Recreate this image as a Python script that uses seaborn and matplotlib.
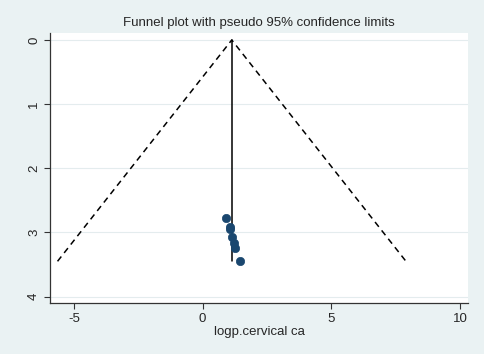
import numpy as np
import pandas as pd
import matplotlib
matplotlib.use("Agg")
import matplotlib.pyplot as plt
import seaborn as sns

# study estimates (log p) and their standard errors
logp = [0.92, 1.05, 1.06, 1.14, 1.21, 1.27, 1.44]
se = [2.77, 2.92, 2.95, 3.07, 3.17, 3.25, 3.45]
pooled = 1.13

xticks = [-5, 0, 5, 10]
yticks = [0, 1, 2, 3, 4]

sns.set_theme(style="white")
plt.rcParams['font.family'] = ['Liberation Sans', 'DejaVu Sans']

bg = '#eaf2f3'
navy = '#1a476f'

fig = plt.figure(figsize=(4.84, 3.54), dpi=100, facecolor=bg)
ax = fig.add_axes([0.103, 0.144, 0.864, 0.763])
ax.set_facecolor('white')

df = pd.DataFrame({'logp': logp, 'se': se})
maxse = max(se)

# pseudo 95% limits
lim = pd.DataFrame({
    'x': [pooled - 1.96 * maxse, pooled, pooled + 1.96 * maxse],
    'y': [maxse, 0, maxse],
})
sns.lineplot(data=lim, x='x', y='y', sort=False, estimator=None,
             color='black', linestyle=(0, (4, 3)), linewidth=1.1, ax=ax)
vert = pd.DataFrame({'x': [pooled, pooled], 'y': [0, maxse]})
sns.lineplot(data=vert, x='x', y='y', sort=False, estimator=None,
             color='black', linewidth=1.1, ax=ax)
sns.scatterplot(data=df, x='logp', y='se', color=navy, s=36,
                edgecolor=navy, linewidth=0.5, zorder=5, ax=ax)

ax.set_xlim(-5.93, 10.3)
ax.set_ylim(4.1, -0.11)
ax.set_xticks(xticks)
ax.set_yticks(yticks)
ax.set_xticklabels([str(t) for t in xticks], fontsize=9.5)
ax.set_yticklabels([str(t) for t in yticks], fontsize=9.5, rotation=90,
                   va='center')
for y in yticks:
    ax.axhline(y, color='#e4ecee', linewidth=0.8, zorder=0)

ax.tick_params(axis='both', length=4, width=0.8, color='#333333',
               direction='out', bottom=True, left=True, pad=3)
for s in ['top', 'right']:
    ax.spines[s].set_visible(False)
for s in ['left', 'bottom']:
    ax.spines[s].set_color('#333333')
    ax.spines[s].set_linewidth(0.9)

ax.set_xlabel('logp.cervical ca', fontsize=9.5, labelpad=1)
ax.set_ylabel('')
ax.set_title('Funnel plot with pseudo 95% confidence limits', fontsize=9.5,
             pad=5)

fig.savefig('out.png', dpi=100, facecolor=bg)
